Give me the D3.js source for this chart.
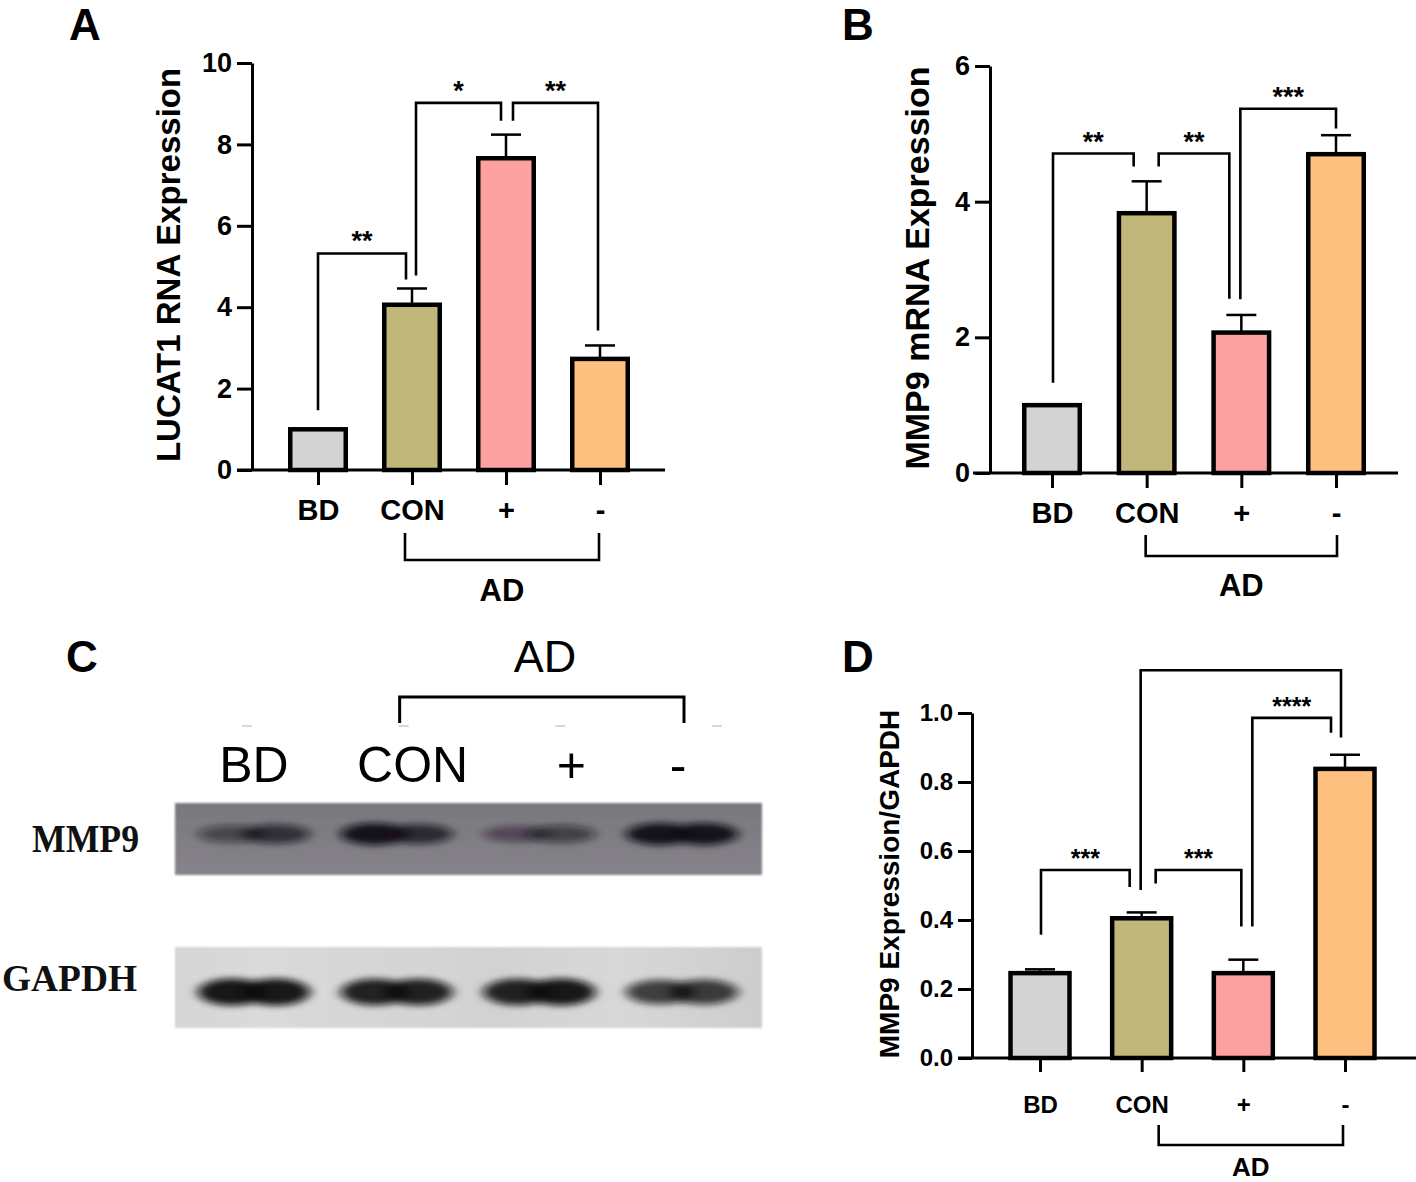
<!DOCTYPE html>
<html><head><meta charset="utf-8">
<script src="https://cdn.jsdelivr.net/npm/d3@7"></script>
<style>
body{margin:0;background:#fff}
svg{display:block}
</style>
</head><body>
<svg id="fig" width="1416" height="1182"></svg>
<script>
// ---------------- DATA ----------------
const categories = ["BD", "CON", "+", "-"];
const barColors = ["#d3d3d3", "#c1b77b", "#fca0a0", "#fec07f"];
const groupLabel = "AD";
const groupSpan = ["CON", "-"];

// Panel A
const lucat1Mean = [1.0, 4.06, 7.66, 2.73];
const lucat1Err  = [0, 0.40, 0.58, 0.33];
const lucat1Ticks = [0, 2, 4, 6, 8, 10];
const lucat1Sig = [
  {a: 0, b: 1, level: 5.32, endA: 1.47, endB: 4.68, stars: "**"},
  {a: 1, b: 2, level: 9.02, endA: 4.78, endB: 8.58, stars: "*"},
  {a: 2, b: 3, level: 9.02, endA: 8.58, endB: 3.43, stars: "**"}
];

// Panel B
const mmp9Mean = [1.0, 3.83, 2.07, 4.70];
const mmp9Err  = [0, 0.47, 0.26, 0.28];
const mmp9Ticks = [0, 2, 4, 6];
const mmp9Sig = [
  {a: 0, b: 1, level: 4.71, endA: 1.33, endB: 4.52, stars: "**"},
  {a: 1, b: 2, level: 4.71, endA: 4.52, endB: 2.57, stars: "**"},
  {a: 2, b: 3, level: 5.37, endA: 2.56, endB: 5.08, stars: "***"}
];

// Panel D
const ratioMean = [0.246, 0.405, 0.246, 0.838];
const ratioErr  = [0.011, 0.017, 0.039, 0.041];
const ratioTicks = [0, 0.2, 0.4, 0.6, 0.8, 1.0];
const ratioSig = [
  {a: 0, b: 1, level: 0.545, endA: 0.357, endB: 0.496, stars: "***"},
  {a: 1, b: 2, level: 0.545, endA: 0.506, endB: 0.381, stars: "***"},
  {a: 1, b: 3, level: 1.124, endA: 0.487, endB: 0.929, stars: ""},
  {a: 2, b: 3, level: 0.986, endA: 0.381, endB: 0.943, stars: "****"}
];

// Panel C (western blot band intensities, left/right half of each band)
const blotProteins = ["MMP9", "GAPDH"];
const mmp9BandLeft  = [0.55, 1.0, 0.45, 1.0];
const mmp9BandRight = [0.75, 0.8, 0.6, 1.0];
const gapdhBandLeft  = [1.0, 0.95, 0.95, 0.8];
const gapdhBandRight = [1.0, 0.95, 1.0, 0.82];

// ---------------- DRAWING ----------------
const SANS = "'Liberation Sans', Arial, Helvetica, sans-serif";
const SERIF = "'Liberation Serif', 'Times New Roman', serif";
const svg = d3.select("#fig");

function barPanel(cfg) {
  const g = svg.append("g");
  const x = d3.scalePoint().domain(categories).range(cfg.centres);
  const y = d3.scaleLinear().domain([0, cfg.max]).range([cfg.y0, cfg.yTop]);

  // bars
  g.selectAll("rect.bar").data(cfg.mean).join("rect")
    .attr("class", "bar")
    .attr("x", (d, i) => x(categories[i]) - cfg.bw / 2)
    .attr("y", d => y(d))
    .attr("width", cfg.bw)
    .attr("height", d => y(0) - y(d))
    .attr("fill", (d, i) => barColors[i])
    .attr("stroke", "#000").attr("stroke-width", 4.5);

  // error bars (upper)
  cfg.mean.forEach((m, i) => {
    const e = cfg.err[i];
    if (!e) return;
    const cx = x(categories[i]);
    g.append("line").attr("x1", cx).attr("x2", cx)
      .attr("y1", y(m)).attr("y2", y(m + e))
      .attr("stroke", "#000").attr("stroke-width", 2.5);
    g.append("line").attr("x1", cx - cfg.cap / 2).attr("x2", cx + cfg.cap / 2)
      .attr("y1", y(m + e)).attr("y2", y(m + e))
      .attr("stroke", "#000").attr("stroke-width", 2.5);
  });

  // significance brackets
  cfg.sig.forEach((s, k) => {
    const dx = cfg.legDx[k];
    const xa = x(categories[s.a]) + dx[0];
    const xb = x(categories[s.b]) + dx[1];
    g.append("path")
      .attr("d", `M${xa},${y(s.endA)}V${y(s.level)}H${xb}V${y(s.endB)}`)
      .attr("fill", "none").attr("stroke", "#000").attr("stroke-width", 2.6);
    if (s.stars) {
      g.append("text").attr("x", (xa + xb) / 2).attr("y", y(s.level) - cfg.starGap)
        .attr("text-anchor", "middle").attr("font-family", SANS).attr("font-weight", "bold")
        .attr("font-size", cfg.starFont).text(s.stars);
    }
  });

  // y axis
  const ya = g.append("g").attr("transform", `translate(${cfg.axisX},0)`)
    .call(d3.axisLeft(y).tickValues(cfg.ticks).tickSize(cfg.tick).tickSizeOuter(0)
      .tickPadding(cfg.yPad).tickFormat(cfg.fmt));
  ya.attr("font-family", SANS).attr("font-size", cfg.tickFont).attr("font-weight", "bold");
  ya.select(".domain").attr("stroke-width", 3);
  ya.selectAll(".tick line").attr("stroke-width", 3);
  ya.selectAll(".tick text").attr("fill", "#000");

  // x axis
  const xa = g.append("g").attr("transform", `translate(0,${cfg.y0})`)
    .call(d3.axisBottom(x).tickSize(cfg.tick).tickSizeOuter(0).tickPadding(cfg.xPad));
  xa.select(".domain").remove();
  xa.attr("font-family", SANS).attr("font-size", cfg.catFont).attr("font-weight", "bold");
  xa.selectAll(".tick line").attr("stroke-width", 3);
  xa.selectAll(".tick text").attr("fill", "#000");
  g.append("line").attr("x1", cfg.xStart).attr("x2", cfg.xEnd)
    .attr("y1", cfg.y0).attr("y2", cfg.y0).attr("stroke", "#000").attr("stroke-width", 3);

  // group bracket (AD)
  const gx1 = x(groupSpan[0]) + cfg.groupDx[0];
  const gx2 = x(groupSpan[1]) + cfg.groupDx[1];
  g.append("path").attr("d", `M${gx1},${cfg.groupTop}V${cfg.groupBottom}H${gx2}V${cfg.groupTop}`)
    .attr("fill", "none").attr("stroke", "#000").attr("stroke-width", 2.6);
  g.append("text").attr("x", (gx1 + gx2) / 2).attr("y", cfg.groupLabelY)
    .attr("text-anchor", "middle").attr("font-family", SANS).attr("font-weight", "bold")
    .attr("font-size", cfg.groupFont).text(groupLabel);

  // y label
  g.append("text").attr("transform", `translate(${cfg.ylabX},${cfg.ylabY}) rotate(-90)`)
    .attr("text-anchor", "middle").attr("font-family", SANS).attr("font-weight", "bold")
    .attr("font-size", cfg.ylabFont).text(cfg.ylabel);

  // panel letter
  svg.append("text").attr("x", cfg.letterX).attr("y", cfg.letterY)
    .attr("text-anchor", "middle").attr("font-family", SANS).attr("font-weight", "bold")
    .attr("font-size", 44).text(cfg.letter);
}

barPanel({
  letter: "A", letterX: 85, letterY: 40,
  mean: lucat1Mean, err: lucat1Err, sig: lucat1Sig, ticks: lucat1Ticks, max: 10,
  fmt: d3.format("d"),
  centres: [318, 600], axisX: 252, xStart: 237, xEnd: 665, y0: 470, yTop: 63,
  bw: 55.5, cap: 30, tick: 15, yPad: 5, xPad: 14, tickFont: 27, catFont: 29,
  legDx: [[0, -6], [4, -5], [7, -2]], starGap: 3, starFont: 27,
  groupDx: [-7, -1], groupTop: 533, groupBottom: 560, groupLabelY: 601, groupFont: 31,
  ylabel: "LUCAT1 RNA Expression", ylabX: 180, ylabY: 265, ylabFont: 33
});

barPanel({
  letter: "B", letterX: 858, letterY: 40,
  mean: mmp9Mean, err: mmp9Err, sig: mmp9Sig, ticks: mmp9Ticks, max: 6,
  fmt: d3.format("d"),
  centres: [1052, 1336], axisX: 990, xStart: 973, xEnd: 1398, y0: 473, yTop: 66,
  bw: 55.5, cap: 30, tick: 15, yPad: 5, xPad: 14, tickFont: 27, catFont: 29,
  legDx: [[1, -13], [12, -12], [-1, 0]], starGap: 3, starFont: 27,
  groupDx: [-1, 1], groupTop: 535, groupBottom: 556, groupLabelY: 596, groupFont: 31,
  ylabel: "MMP9 mRNA Expression", ylabX: 929, ylabY: 268, ylabFont: 34
});

barPanel({
  letter: "D", letterX: 858, letterY: 672,
  mean: ratioMean, err: ratioErr, sig: ratioSig, ticks: ratioTicks, max: 1.0,
  fmt: d3.format(".1f"),
  centres: [1040, 1345], axisX: 972, xStart: 958, xEnd: 1416, y0: 1058, yTop: 713,
  bw: 59, cap: 30, tick: 14, yPad: 5, xPad: 24, tickFont: 24, catFont: 24,
  legDx: [[1, -12], [14, -2], [-1, -4], [9, -14]], starGap: 3, starFont: 25,
  groupDx: [17, -2], groupTop: 1125, groupBottom: 1145, groupLabelY: 1176, groupFont: 26,
  ylabel: "MMP9 Expression/GAPDH", ylabX: 899, ylabY: 884, ylabFont: 28
});

// ---------------- Panel C: western blot ----------------
(function () {
  const defs = svg.append("defs");
  const f = defs.append("filter").attr("id", "bandBlur")
    .attr("x", "-30%").attr("y", "-80%").attr("width", "160%").attr("height", "260%");
  f.append("feGaussianBlur").attr("stdDeviation", "6 3");
  const f2 = defs.append("filter").attr("id", "edgeBlur")
    .attr("x", "-5%").attr("y", "-10%").attr("width", "110%").attr("height", "120%");
  f2.append("feGaussianBlur").attr("stdDeviation", "1.2");

  const gm = defs.append("linearGradient").attr("id", "mmpBg").attr("x1", 0).attr("x2", 0).attr("y1", 0).attr("y2", 1);
  gm.append("stop").attr("offset", 0).attr("stop-color", "#7a787e");
  gm.append("stop").attr("offset", 1).attr("stop-color", "#86848a");
  const gg = defs.append("linearGradient").attr("id", "gapBg").attr("x1", 0).attr("x2", 1).attr("y1", 0).attr("y2", 0);
  gg.append("stop").attr("offset", 0).attr("stop-color", "#d6d6d6");
  gg.append("stop").attr("offset", 0.15).attr("stop-color", "#dadada");
  gg.append("stop").attr("offset", 0.55).attr("stop-color", "#d2d2d2");
  gg.append("stop").attr("offset", 0.75).attr("stop-color", "#d8d8d8");
  gg.append("stop").attr("offset", 1).attr("stop-color", "#cdcdcd");

  const g = svg.append("g");
  const blotX = 175, blotW = 587;
  const rows = {
    MMP9:  {top: 803, h: 72, bandY: 834, bandH: 22, fill: "url(#mmpBg)", band: "#120d18",
            left: mmp9BandLeft, right: mmp9BandRight, labY: 852, labFont: 39, labLen: 107, labX: 32},
    GAPDH: {top: 947, h: 81, bandY: 992, bandH: 27, fill: "url(#gapBg)", band: "#0a0a0a",
            left: gapdhBandLeft, right: gapdhBandRight, labY: 991, labFont: 37, labLen: 135, labX: 2}
  };
  const lane = d3.scalePoint().domain(categories).range([254, 682]);
  const bandW = 108;

  blotProteins.forEach(p => {
    const r = rows[p];
    g.append("rect").attr("x", blotX).attr("y", r.top).attr("width", blotW).attr("height", r.h)
      .attr("fill", r.fill).attr("filter", "url(#edgeBlur)");
    const bg = g.append("g").attr("filter", "url(#bandBlur)");
    categories.forEach((c, i) => {
      const cx = lane(c);
      const hL = r.bandH * (0.55 + 0.45 * r.left[i]);
      const hR = r.bandH * (0.55 + 0.45 * r.right[i]);
      bg.append("ellipse").attr("cx", cx - bandW * 0.2).attr("cy", r.bandY)
        .attr("rx", bandW * 0.32).attr("ry", hL / 2)
        .attr("fill", r.band).attr("opacity", Math.min(1, r.left[i] * 0.95));
      bg.append("ellipse").attr("cx", cx + bandW * 0.2).attr("cy", r.bandY)
        .attr("rx", bandW * 0.32).attr("ry", hR / 2)
        .attr("fill", r.band).attr("opacity", Math.min(1, r.right[i] * 0.95));
    });
    g.append("text").attr("x", r.labX).attr("y", r.labY)
      .attr("font-family", SERIF).attr("font-weight", "bold").attr("font-size", r.labFont)
      .attr("textLength", r.labLen).attr("lengthAdjust", "spacingAndGlyphs")
      .attr("fill", "#111").text(p);
  });

  // lane labels
  const laneLab = d3.scalePoint().domain(categories).range([247, 717]);
  const labNudge = [7, 9, 11, -39];
  g.selectAll("line.faint").data(categories).join("line")
    .attr("x1", d => laneLab(d) - 5).attr("x2", d => laneLab(d) + 5)
    .attr("y1", 726).attr("y2", 726).attr("stroke", "#d8d8d8").attr("stroke-width", 2);
  g.selectAll("text.lane").data(categories).join("text")
    .attr("x", (d, i) => laneLab(d) + labNudge[i]).attr("y", 782)
    .attr("text-anchor", "middle").attr("font-family", SANS).attr("font-size", 50)
    .text(d => d);

  // AD bracket
  const b1 = laneLab(groupSpan[0]) - 4, b2 = laneLab(groupSpan[1]) - 33;
  g.append("path").attr("d", `M${b1},723V697H${b2}V723`)
    .attr("fill", "none").attr("stroke", "#000").attr("stroke-width", 3);
  g.append("text").attr("x", 545).attr("y", 672).attr("text-anchor", "middle")
    .attr("font-family", SANS).attr("font-size", 45).text(groupLabel);

  svg.append("text").attr("x", 82).attr("y", 672).attr("text-anchor", "middle")
    .attr("font-family", SANS).attr("font-weight", "bold").attr("font-size", 44).text("C");
})();
</script>
</body></html>
